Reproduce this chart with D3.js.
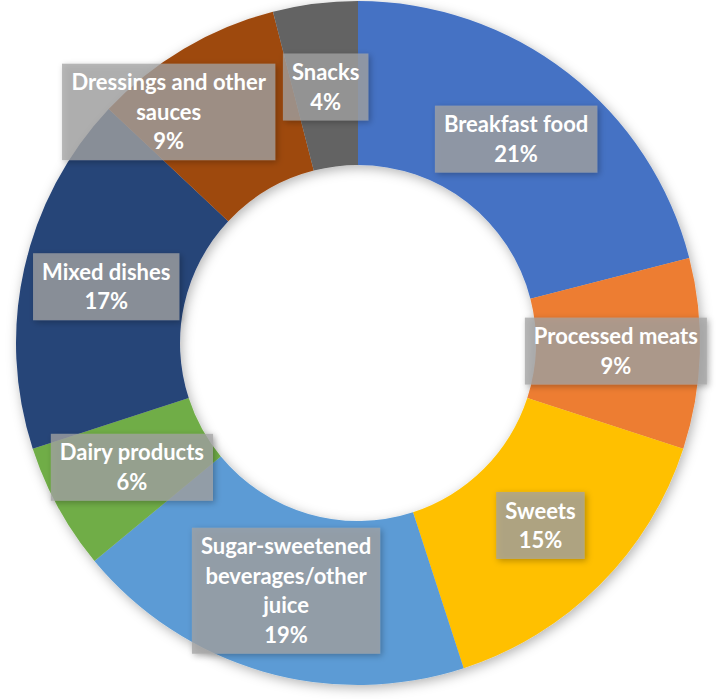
<!DOCTYPE html>
<html>
<head>
<meta charset="utf-8">
<script src="https://cdn.jsdelivr.net/npm/d3@7"></script>
<style>
  body { margin: 0; background: #fff; }
  svg text { font-family: Lato, "Open Sans", sans-serif; font-weight: bold; fill: #fff; }
</style>
</head>
<body>
<div id="chart"></div>
<script>
var categories = [
    'Breakfast food', 'Processed meats', 'Sweets', 'Sugar-sweetened beverages/other juice',
    'Dairy products', 'Mixed dishes', 'Dressings and other sauces', 'Snacks'
];
var values = [21, 9, 15, 19, 6, 17, 9, 4];
// how each label wraps in the picture
var labelLines = [
    ['Breakfast food'],
    ['Processed meats'],
    ['Sweets'],
    ['Sugar-sweetened', 'beverages/other', 'juice'],
    ['Dairy products'],
    ['Mixed dishes'],
    ['Dressings and other', 'sauces'],
    ['Snacks']
];

var sliceColors = ['#4472c4', '#ed7d31', '#ffc000', '#5b9bd5', '#70ad47', '#264478', '#9e480e', '#636363'];

var WIDTH = 722, HEIGHT = 699;
var CENTER = {x: 358, y: 343};
var OUTER_R = 342, INNER_R = 178, LABEL_R = 258;
var LINE_H = 29.5, PAD_X = 9, PAD_Y = 4;
// Dressings label was dragged off its centroid so it won't sit on Snacks
var labelNudge = [[0, 0], [0, 0], [0, 0], [0, 0], [0, 0], [0, 0], [-58, -9], [0, 0]];

var svg = d3.select('#chart').append('svg')
    .attr('width', WIDTH)
    .attr('height', HEIGHT);

var defs = svg.append('defs');
defs.append('filter').attr('id', 'ringShadow')
    .attr('x', '-10%').attr('y', '-10%').attr('width', '120%').attr('height', '120%')
    .append('feDropShadow')
    .attr('dx', 2).attr('dy', 3).attr('stdDeviation', 6)
    .attr('flood-color', '#000').attr('flood-opacity', 0.3);
defs.append('filter').attr('id', 'boxShadow')
    .attr('x', '-20%').attr('y', '-30%').attr('width', '140%').attr('height', '160%')
    .append('feDropShadow')
    .attr('dx', 2).attr('dy', 2).attr('stdDeviation', 3)
    .attr('flood-color', '#000').attr('flood-opacity', 0.35);

var g = svg.append('g')
    .attr('transform', 'translate(' + CENTER.x + ',' + CENTER.y + ')');

var pie = d3.pie().sort(null).value(function(d) { return d; });
var arcs = pie(values);

var arc = d3.arc().innerRadius(INNER_R).outerRadius(OUTER_R);
var labelArc = d3.arc().innerRadius(LABEL_R).outerRadius(LABEL_R);

// ring
g.append('g')
    .attr('filter', 'url(#ringShadow)')
    .selectAll('path')
    .data(arcs)
    .enter().append('path')
    .attr('fill', function(d, i) { return sliceColors[i]; })
    .attr('d', arc);

// data labels
var labels = g.append('g').selectAll('g.label')
    .data(arcs)
    .enter().append('g')
    .attr('class', 'label')
    .attr('transform', function(d, i) {
        var c = labelArc.centroid(d);
        return 'translate(' + (c[0] + labelNudge[i][0]) + ',' + (c[1] + labelNudge[i][1]) + ')';
    });

labels.each(function(d, i) {
    var lbl = d3.select(this);
    var lines = labelLines[i].concat([values[i] + '%']);
    var box = lbl.append('rect')
        .attr('fill', '#a3a3a3')
        .attr('fill-opacity', 0.76)
        .attr('filter', 'url(#boxShadow)');
    var txt = lbl.append('text')
        .attr('text-anchor', 'middle')
        .style('font-size', '22px');
    var top = -(lines.length * LINE_H) / 2;
    lines.forEach(function(line, k) {
        txt.append('tspan')
            .attr('x', 0)
            .attr('y', top + LINE_H * k + LINE_H / 2)
            .attr('dy', '0.36em')
            .text(line);
    });
    var w = txt.node().getBBox().width;
    box.attr('x', -w / 2 - PAD_X)
        .attr('y', top - PAD_Y)
        .attr('width', w + 2 * PAD_X)
        .attr('height', lines.length * LINE_H + 2 * PAD_Y);
});
</script>
</body>
</html>
